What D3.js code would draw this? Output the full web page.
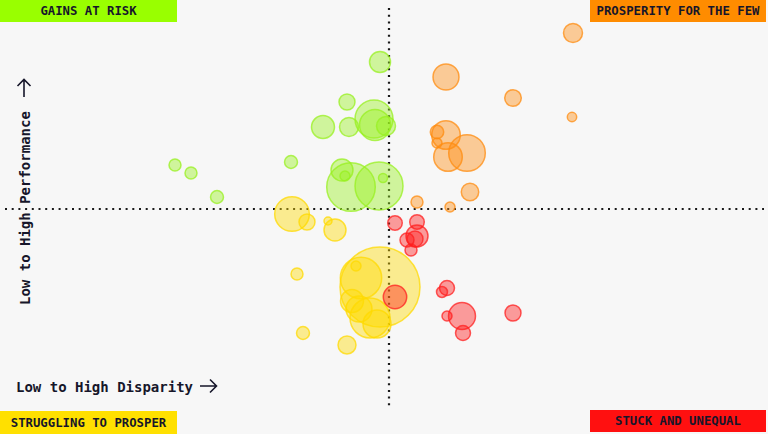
<!DOCTYPE html>
<html>
<head>
<meta charset="utf-8">
<script src="https://cdn.jsdelivr.net/npm/d3@7"></script>
<style>
  html, body { margin: 0; padding: 0; background: #f7f7f7; }
  svg { display: block; }
</style>
</head>
<body>
<div id="chart"></div>
<script>
// ---- Data (disparity z-score, performance z-score, population size) ----
const gainsAtRisk = [
  [-0.09, 1.47, 110], [-0.42, 1.07, 64], [-0.15, 0.90, 361], [-0.14, 0.84, 240],
  [-0.03, 0.83, 90], [-0.66, 0.82, 132], [-0.40, 0.82, 90], [-2.14, 0.44, 36],
  [-1.98, 0.36, 36], [-1.72, 0.12, 42], [-0.98, 0.47, 42], [-0.47, 0.39, 121],
  [-0.44, 0.33, 25], [-0.38, 0.22, 590], [-0.10, 0.23, 576], [-0.06, 0.31, 20]
];
const prosperityForFew = [
  [1.84, 1.76, 90], [0.57, 1.32, 169], [1.24, 1.11, 69], [1.83, 0.92, 22],
  [0.57, 0.74, 204], [0.48, 0.77, 45], [0.48, 0.66, 25], [0.59, 0.52, 204],
  [0.78, 0.56, 335], [0.81, 0.17, 76], [0.28, 0.07, 36], [0.61, 0.02, 25]
];
const strugglingToProsper = [
  [-0.97, -0.05, 300], [-0.82, -0.13, 64], [-0.61, -0.12, 16], [-0.54, -0.21, 121],
  [-0.92, -0.65, 36], [-0.09, -0.78, 1600], [-0.28, -0.69, 428], [-0.33, -0.57, 25],
  [-0.37, -0.92, 132], [-0.30, -1.00, 169], [-0.19, -1.09, 400], [-0.12, -1.15, 196],
  [-0.86, -1.24, 42], [-0.42, -1.36, 81]
];
const stuckAndUnequal = [
  [0.06, -0.14, 53], [0.28, -0.13, 53], [0.28, -0.27, 121], [0.18, -0.31, 49],
  [0.26, -0.30, 64], [0.22, -0.41, 36], [0.06, -0.88, 137], [0.58, -0.79, 56],
  [0.53, -0.83, 30], [0.73, -1.07, 182], [0.58, -1.07, 25], [0.74, -1.24, 56],
  [1.24, -1.04, 64]
];
const quadrantLabels = ["GAINS AT RISK", "PROSPERITY FOR THE FEW", "STRUGGLING TO PROSPER", "STUCK AND UNEQUAL"];
const xAxisLabel = "Low to High Disparity";
const yAxisLabel = "Low to High Performance";

// ---- Layout ----
const W = 768, H = 434;
const FONT = "'DejaVu Sans Mono', 'Liberation Mono', monospace";
const INK = "#16162a";

const x = d3.scaleLinear().domain([-3.78, 3.78]).range([11, 767]);
const y = d3.scaleLinear().domain([-2, 2]).range([409, 9]);
const r = d3.scaleSqrt().domain([0, 1600]).range([0, 40]);

const svg = d3.select("#chart").append("svg")
  .attr("width", W).attr("height", H);

svg.append("rect").attr("width", W).attr("height", H).attr("fill", "#f7f7f7");

// Dotted quadrant dividers
svg.append("line")
  .attr("x1", x(0)).attr("x2", x(0)).attr("y1", 8).attr("y2", 410)
  .attr("stroke", "#1a1a1a").attr("stroke-width", 2.2).attr("stroke-dasharray", "2 4.7");
svg.append("line")
  .attr("x1", 5).attr("x2", 764).attr("y1", y(0)).attr("y2", y(0))
  .attr("stroke", "#1a1a1a").attr("stroke-width", 2.2).attr("stroke-dasharray", "2 4.7");

// Bubbles
const groups = [
  { data: strugglingToProsper, fill: "#ffdc00", stroke: "#ffd900" },
  { data: gainsAtRisk, fill: "#98f020", stroke: "#98f020" },
  { data: prosperityForFew, fill: "#ff8c10", stroke: "#ff8c10" },
  { data: stuckAndUnequal, fill: "#ff1a1a", stroke: "#ff2020" }
];
groups.forEach(g => {
  svg.append("g").selectAll("circle")
    .data(g.data)
    .join("circle")
    .attr("cx", d => x(d[0]))
    .attr("cy", d => y(d[1]))
    .attr("r", d => r(d[2]))
    .attr("fill", g.fill)
    .attr("fill-opacity", 0.42)
    .attr("stroke", g.stroke)
    .attr("stroke-opacity", 0.75)
    .attr("stroke-width", 1.5);
});

// Quadrant label boxes
const boxes = [
  { text: quadrantLabels[0], x: 0, y: 0, w: 177, h: 22, fill: "#99ff00" },
  { text: quadrantLabels[1], x: 590, y: 0, w: 176, h: 22, fill: "#ff8c00" },
  { text: quadrantLabels[2], x: 0, y: 411, w: 177, h: 23, fill: "#ffe000" },
  { text: quadrantLabels[3], x: 590, y: 410, w: 176, h: 22, fill: "#ff1010" }
];
boxes.forEach(b => {
  svg.append("rect").attr("x", b.x).attr("y", b.y).attr("width", b.w).attr("height", b.h)
    .attr("fill", b.fill);
  svg.append("text")
    .attr("x", b.x + b.w / 2).attr("y", b.y + b.h / 2 + 0.5)
    .attr("text-anchor", "middle").attr("dominant-baseline", "middle")
    .attr("font-family", FONT).attr("font-weight", "bold").attr("font-size", 12.3)
    .attr("fill", INK).text(b.text);
});

// Axis labels
svg.append("text")
  .attr("x", 16).attr("y", 392)
  .attr("font-family", FONT).attr("font-weight", "bold").attr("font-size", 14)
  .attr("fill", INK).text(xAxisLabel);
svg.append("path")
  .attr("d", "M200,386 H216 M210,379.5 L216.5,386 L210,392.5")
  .attr("fill", "none").attr("stroke", INK).attr("stroke-width", 1.6);

svg.append("text")
  .attr("transform", "translate(30,305) rotate(-90)")
  .attr("font-family", FONT).attr("font-weight", "bold").attr("font-size", 14)
  .attr("fill", INK).text(yAxisLabel);
svg.append("path")
  .attr("d", "M24,97 V80 M17.5,86 L24,79.5 L30.5,86")
  .attr("fill", "none").attr("stroke", INK).attr("stroke-width", 1.6);
</script>
</body>
</html>
